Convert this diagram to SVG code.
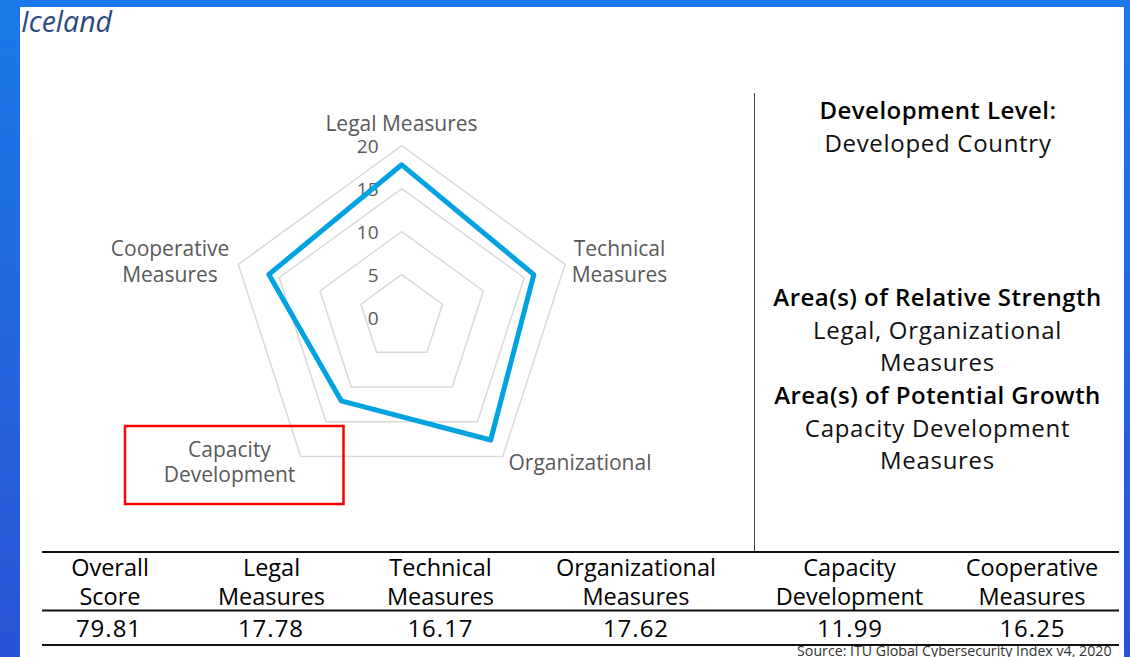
<svg xmlns="http://www.w3.org/2000/svg" width="1130" height="657" viewBox="0 0 1130 657">
  <defs>
    <linearGradient id="bg" x1="0" y1="0" x2="0" y2="1">
      <stop offset="0" stop-color="#1a7aea"/>
      <stop offset="1" stop-color="#2c52d6"/>
    </linearGradient>
    <style>
      .ring { fill: none; stroke: #d9d9d9; stroke-width: 1.5; }
      .lbl { font-family: "Open Sans", "Liberation Sans", sans-serif; font-size: 21px; fill: #595959; text-anchor: middle; }
      .num { font-family: "Open Sans", "Liberation Sans", sans-serif; font-size: 19px; fill: #595959; text-anchor: end; }
      .hd { font-family: "Open Sans", "Liberation Sans", sans-serif; font-size: 24px; font-weight: 600; fill: #000; text-anchor: middle; letter-spacing: 0.45px; }
      .tx { font-family: "Open Sans", "Liberation Sans", sans-serif; font-size: 24px; fill: #111; text-anchor: middle; letter-spacing: 0.7px; }
      .th { font-family: "Open Sans", "Liberation Sans", sans-serif; font-size: 23.5px; fill: #000; text-anchor: middle; }
      .tv { font-family: "Open Sans", "Liberation Sans", sans-serif; font-size: 24px; fill: #000; text-anchor: middle; letter-spacing: 1px; }
      .rule { stroke: #111; stroke-width: 1.8; }
    </style>
  </defs>

  <rect x="0" y="0" width="1130" height="657" fill="url(#bg)"/>
  <rect x="20" y="7" width="1104" height="650" fill="#ffffff"/>

  <text x="21" y="32" font-family="'Open Sans', 'Liberation Sans', sans-serif" font-size="28.5" font-style="italic" fill="#2b4a7f">Iceland</text>

  <g id="radar">
    <g id="grid">
      <polygon class="ring" points="401.7,145.7 565.1,264.4 502.7,456.5 300.7,456.5 238.3,264.4"/>
      <polygon class="ring" points="401.7,188.65 524.2,277.7 477.4,421.7 326.0,421.7 279.2,277.7"/>
      <polygon class="ring" points="401.7,231.6 483.4,291.0 452.2,387.0 351.2,387.0 320.0,291.0"/>
      <polygon class="ring" points="401.7,274.55 442.5,304.2 426.9,352.2 376.5,352.2 360.9,304.2"/>
    </g>
    <g id="axis-values">
      <text class="num" x="378.5" y="152.5">20</text>
      <text class="num" x="378.5" y="195.7">15</text>
      <text class="num" x="378.5" y="239">10</text>
      <text class="num" x="378.5" y="281.7">5</text>
      <text class="num" x="378.5" y="325">0</text>
    </g>
    <polygon id="series" points="401.7,164.8 533.8,274.6 490.7,440.0 341.2,400.8 268.9,274.4" fill="none" stroke="#00a3e0" stroke-width="5" stroke-linejoin="round"/>
    <g id="axis-labels">
      <text class="lbl" x="401.5" y="131">Legal Measures</text>
      <text class="lbl" x="619.5" y="255.5">Technical</text>
      <text class="lbl" x="619.5" y="281.5">Measures</text>
      <text class="lbl" x="580" y="469.5">Organizational</text>
      <text class="lbl" x="229.5" y="456.5">Capacity</text>
      <text class="lbl" x="229.5" y="481.5">Development</text>
      <text class="lbl" x="170" y="255.5">Cooperative</text>
      <text class="lbl" x="170" y="281.5">Measures</text>
    </g>
    <rect id="highlight" x="125" y="426" width="218.5" height="78" fill="none" stroke="#ff0000" stroke-width="2.5"/>
  </g>

  <line x1="754.5" y1="93" x2="754.5" y2="551" stroke="#444" stroke-width="1"/>

  <g id="summary">
    <text class="hd" x="938" y="119">Development Level:</text>
    <text class="tx" x="938" y="152">Developed Country</text>
    <text class="hd" x="937.5" y="306">Area(s) of Relative Strength</text>
    <text class="tx" x="937.5" y="338.5">Legal, Organizational</text>
    <text class="tx" x="937.5" y="370.5">Measures</text>
    <text class="hd" x="937.5" y="403.5">Area(s) of Potential Growth</text>
    <text class="tx" x="937.5" y="437">Capacity Development</text>
    <text class="tx" x="937.5" y="468.5">Measures</text>
  </g>

  <g id="table">
    <line class="rule" x1="42" y1="552" x2="1119" y2="552"/>
    <line class="rule" x1="42" y1="610.5" x2="1119" y2="610.5"/>
    <line class="rule" x1="42" y1="645" x2="1119" y2="645"/>
    <text class="th" x="110" y="576">Overall</text>
    <text class="th" x="110" y="604.5">Score</text>
    <text class="th" x="271.5" y="576">Legal</text>
    <text class="th" x="271.5" y="604.5">Measures</text>
    <text class="th" x="440.5" y="576">Technical</text>
    <text class="th" x="440.5" y="604.5">Measures</text>
    <text class="th" x="636" y="576">Organizational</text>
    <text class="th" x="636" y="604.5">Measures</text>
    <text class="th" x="849.5" y="576">Capacity</text>
    <text class="th" x="849.5" y="604.5">Development</text>
    <text class="th" x="1032" y="576">Cooperative</text>
    <text class="th" x="1032" y="604.5">Measures</text>
    <text class="tv" x="109" y="637">79.81</text>
    <text class="tv" x="271" y="637">17.78</text>
    <text class="tv" x="440.5" y="637">16.17</text>
    <text class="tv" x="636" y="637">17.62</text>
    <text class="tv" x="850" y="637">11.99</text>
    <text class="tv" x="1032.5" y="637">16.25</text>
    <text x="1111.5" y="655.5" font-family="'Open Sans', 'Liberation Sans', sans-serif" font-size="14.2" fill="#333" text-anchor="end">Source: ITU Global Cybersecurity Index v4, 2020</text>
  </g>
</svg>
